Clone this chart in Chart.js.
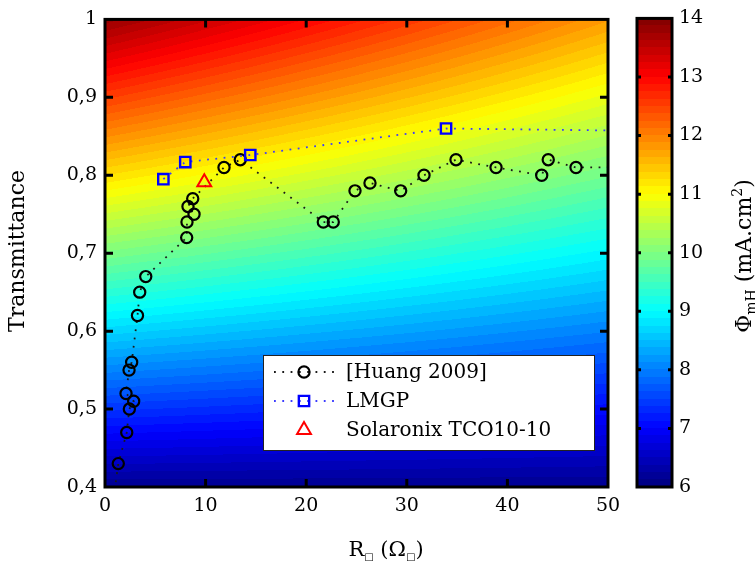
<!DOCTYPE html>
<html>
<head>
<meta charset="utf-8">
<script src="https://cdn.jsdelivr.net/npm/chart.js@4/dist/chart.umd.min.js"></script>
<style>
  html, body { margin: 0; padding: 0; background: #fff; }
  #wrap { position: relative; width: 755px; height: 561px; }
  canvas { position: absolute; top: 0; }
</style>
</head>
<body>
<div id="wrap">
  <canvas id="main" width="755" height="561" style="left:0;width:755px;height:561px"></canvas>
  <canvas id="cbar" width="140" height="561" style="left:615px;width:140px;height:561px"></canvas>
</div>
<script>
// --- data ---
// [Huang 2009]  (first and last points lie outside the axes, only the dotted line shows)
const huangR = [0.85, 1.32, 2.16, 2.42, 2.85, 2.09, 2.39, 2.65, 3.23, 3.45, 4.05,
                8.12, 8.15, 8.85, 8.25, 8.72, 11.83, 13.45, 21.7, 22.69, 24.85, 26.34,
                29.39, 31.71, 34.89, 38.87, 43.41, 44.06, 46.82, 54];
const huangT = [0.385, 0.43, 0.47, 0.50, 0.51, 0.52, 0.55, 0.56, 0.62, 0.65, 0.67,
                0.72, 0.74, 0.75, 0.76, 0.77, 0.81, 0.82, 0.74, 0.74, 0.78, 0.79,
                0.78, 0.80, 0.82, 0.81, 0.80, 0.82, 0.81, 0.81];
// LMGP (last point beyond the x range)
const lmgpR = [5.8, 7.98, 14.44, 33.9, 60];
const lmgpT = [0.795, 0.817, 0.826, 0.860, 0.856];
// Solaronix TCO10-10
const solR = [9.87];
const solT = [0.791];

const xTicks = [0, 10, 20, 30, 40, 50];
const yTicks = [0.4, 0.5, 0.6, 0.7, 0.8, 0.9, 1];
const cbTicks = [6, 7, 8, 9, 10, 11, 12, 13, 14];

// background field Phi_mH(R, T), colour range 6..14
const PHI_MIN = 6, PHI_MAX = 14;
const PHI_AT_T04 = 6.13;
const SLOPE_R0 = 12.82, SLOPE_R50 = 9.41;

const FONT = '"DejaVu Serif", "Liberation Serif", serif';
Chart.defaults.font.family = FONT;

const pts = (xs, ys) => xs.map((v, i) => ({ x: v, y: ys[i] }));

function phi(r, t) {
  const s = SLOPE_R0 + (SLOPE_R50 - SLOPE_R0) * r / 50;
  return PHI_AT_T04 + s * (t - 0.4);
}

// matlab style jet, 64 levels
function jet(v) {
  const k = Math.min(63, Math.max(0, Math.floor(v * 64)));
  const u = (k + 0.5) / 64;
  const f = z => Math.round(255 * Math.min(1, Math.max(0, 1.5 - Math.abs(4 * u - z))));
  return [f(3), f(2), f(1)];
}

function richText(ctx, parts, cx, cy, angle) {
  // parts: [text, size, shift]
  ctx.save();
  ctx.translate(cx, cy);
  ctx.rotate(angle);
  ctx.textAlign = 'left';
  ctx.textBaseline = 'alphabetic';
  ctx.fillStyle = '#000';
  let total = 0;
  parts.forEach(p => { ctx.font = p[1] + 'px ' + FONT; total += ctx.measureText(p[0]).width; });
  let x = -total / 2;
  parts.forEach(p => {
    ctx.font = p[1] + 'px ' + FONT;
    ctx.fillText(p[0], x, p[2]);
    x += ctx.measureText(p[0]).width;
  });
  ctx.restore();
}

function marker(ctx, style, r, x, y) {
  ctx.beginPath();
  if (style === 'circle') {
    ctx.arc(x, y, r, 0, Math.PI * 2);
  } else if (style === 'rect') {
    const s = Math.SQRT1_2 * r;
    ctx.rect(x - s, y - s, 2 * s, 2 * s);
  } else if (style === 'triangle') {
    ctx.moveTo(x, y - r);
    ctx.lineTo(x + r * Math.sin(2 * Math.PI / 3), y - r * Math.cos(2 * Math.PI / 3));
    ctx.lineTo(x + r * Math.sin(4 * Math.PI / 3), y - r * Math.cos(4 * Math.PI / 3));
    ctx.closePath();
  }
  ctx.stroke();
}

const fieldPlugin = {
  id: 'field',
  beforeDatasetsDraw(chart) {
    const { ctx, chartArea: a, scales: { x, y } } = chart;
    const w = Math.round(a.right - a.left), h = Math.round(a.bottom - a.top);
    const img = ctx.createImageData(w, h);
    const rs = [];
    for (let i = 0; i < w; i++) rs.push(x.getValueForPixel(a.left + i + 0.5));
    for (let j = 0; j < h; j++) {
      const t = y.getValueForPixel(a.top + j + 0.5);
      for (let i = 0; i < w; i++) {
        const c = jet((phi(rs[i], t) - PHI_MIN) / (PHI_MAX - PHI_MIN));
        const o = (j * w + i) * 4;
        img.data[o] = c[0]; img.data[o + 1] = c[1]; img.data[o + 2] = c[2]; img.data[o + 3] = 255;
      }
    }
    ctx.putImageData(img, Math.round(a.left), Math.round(a.top));
  },
  afterDraw(chart) {
    const { ctx, chartArea: a, scales: { x, y } } = chart;
    ctx.save();
    // frame with inward ticks
    ctx.strokeStyle = '#000';
    ctx.lineWidth = 3;
    ctx.strokeRect(a.left, a.top, a.right - a.left, a.bottom - a.top);
    ctx.beginPath();
    x.ticks.forEach(t => {
      if (t.value <= x.min || t.value >= x.max) return;
      const px = x.getPixelForValue(t.value);
      ctx.moveTo(px, a.bottom); ctx.lineTo(px, a.bottom - 8);
      ctx.moveTo(px, a.top); ctx.lineTo(px, a.top + 8);
    });
    y.ticks.forEach(t => {
      if (t.value <= y.min + 1e-9 || t.value >= y.max - 1e-9) return;
      const py = y.getPixelForValue(t.value);
      ctx.moveTo(a.left, py); ctx.lineTo(a.left + 8, py);
      ctx.moveTo(a.right, py); ctx.lineTo(a.right - 8, py);
    });
    ctx.stroke();

    // legend
    const bx = 263, by = 355, bw = 331, bh = 95;
    ctx.fillStyle = '#fff';
    ctx.fillRect(bx, by, bw, bh);
    ctx.lineWidth = 1;
    ctx.strokeStyle = '#222';
    ctx.strokeRect(bx + 0.5, by + 0.5, bw, bh);
    chart.data.datasets.forEach((ds, i) => {
      const ry = by + 17 + i * 29;
      if (ds.showLine) {
        ctx.save();
        ctx.strokeStyle = ds.borderColor;
        ctx.lineWidth = ds.borderWidth;
        ctx.setLineDash(ds.borderDash);
        ctx.beginPath();
        ctx.moveTo(bx + 11, ry); ctx.lineTo(bx + 72, ry);
        ctx.stroke();
        ctx.restore();
      }
      ctx.strokeStyle = ds.pointBorderColor;
      ctx.lineWidth = ds.pointBorderWidth;
      ctx.setLineDash([]);
      marker(ctx, ds.pointStyle, ds.pointRadius, bx + 41, ry);
      ctx.fillStyle = '#000';
      ctx.font = '20px ' + FONT;
      ctx.textAlign = 'left';
      ctx.textBaseline = 'middle';
      ctx.fillText(ds.label, bx + 83, ry + 1);
    });

    // axis titles
    richText(ctx, [['Transmittance', 22, 0]], 24, 251, -Math.PI / 2);
    ctx.translate(0, 0);
    richText(ctx, [['R', 21, 0], ['\u25A1', 10, 4], [' (\u03A9', 21, 0], ['\u25A1', 10, 4], [')', 21, 0]],
             386, 556, 0);
    ctx.restore();
  }
};

new Chart(document.getElementById('main'), {
  type: 'scatter',
  data: {
    datasets: [
      {
        label: '[Huang 2009]', data: pts(huangR, huangT), showLine: true, order: 3,
        borderColor: '#1a1a1a', borderWidth: 1.8, borderDash: [1.8, 6.5],
        pointStyle: 'circle', pointRadius: 5.6, pointBorderWidth: 2.2,
        pointBorderColor: '#000', pointBackgroundColor: 'rgba(0,0,0,0)', clip: 0
      },
      {
        label: 'LMGP', data: pts(lmgpR, lmgpT), showLine: true, order: 2,
        borderColor: '#3b3bff', borderWidth: 1.8, borderDash: [1.8, 6.5],
        pointStyle: 'rect', pointRadius: 7.3, pointBorderWidth: 2.4,
        pointBorderColor: '#0000ff', pointBackgroundColor: 'rgba(0,0,0,0)', clip: 0
      },
      {
        label: 'Solaronix TCO10-10', data: pts(solR, solT), showLine: false, order: 1,
        pointStyle: 'triangle', pointRadius: 8, pointBorderWidth: 2,
        pointBorderColor: '#ff0000', pointBackgroundColor: 'rgba(0,0,0,0)', clip: 0
      }
    ]
  },
  options: {
    responsive: false,
    animation: false,
    devicePixelRatio: 1,
    layout: { padding: { left: 0, right: 147, top: 17, bottom: 0 } },
    plugins: { legend: { display: false }, tooltip: { enabled: false } },
    elements: { point: { hoverRadius: 0 } },
    scales: {
      x: {
        type: 'linear', min: xTicks[0], max: xTicks[xTicks.length - 1],
        grid: { display: false, drawTicks: false }, border: { display: false },
        afterBuildTicks: s => { s.ticks = xTicks.map(v => ({ value: v })); },
        ticks: { color: '#000', font: { size: 19 }, padding: 8, maxRotation: 0, autoSkip: false },
        afterFit: s => { s.height = 74; }
      },
      y: {
        type: 'linear', min: yTicks[0], max: yTicks[yTicks.length - 1],
        grid: { display: false, drawTicks: false }, border: { display: false },
        afterBuildTicks: s => { s.ticks = yTicks.map(v => ({ value: v })); },
        ticks: {
          color: '#000', font: { size: 19 }, padding: 8, autoSkip: false,
          callback: v => (Math.abs(v - 1) < 1e-9 ? '1' : v.toFixed(1).replace('.', ','))
        },
        afterFit: s => { s.width = 105; }
      }
    }
  },
  plugins: [fieldPlugin]
});

// --- colour bar ---
const cbPlugin = {
  id: 'cbar',
  beforeDraw(chart) {
    const { ctx, chartArea: a, scales: { y } } = chart;
    const w = Math.round(a.right - a.left), h = Math.round(a.bottom - a.top);
    const img = ctx.createImageData(w, h);
    for (let j = 0; j < h; j++) {
      const v = y.getValueForPixel(a.top + j + 0.5);
      const c = jet((v - PHI_MIN) / (PHI_MAX - PHI_MIN));
      for (let i = 0; i < w; i++) {
        const o = (j * w + i) * 4;
        img.data[o] = c[0]; img.data[o + 1] = c[1]; img.data[o + 2] = c[2]; img.data[o + 3] = 255;
      }
    }
    ctx.putImageData(img, Math.round(a.left), Math.round(a.top));
  },
  afterDraw(chart) {
    const { ctx, chartArea: a, scales: { y } } = chart;
    ctx.save();
    ctx.strokeStyle = '#000';
    ctx.lineWidth = 3;
    ctx.strokeRect(a.left, a.top, a.right - a.left, a.bottom - a.top);
    ctx.beginPath();
    y.ticks.forEach(t => {
      if (t.value <= y.min || t.value >= y.max) return;
      const py = y.getPixelForValue(t.value);
      ctx.moveTo(a.left, py); ctx.lineTo(a.left + 4, py);
      ctx.moveTo(a.right, py); ctx.lineTo(a.right - 4, py);
    });
    ctx.stroke();
    richText(ctx, [['\u03A6', 22, 0], ['mH', 14, 5], [' (mA.cm', 22, 0], ['2', 14, -9], [')', 22, 0]],
             136, 256, -Math.PI / 2);
    ctx.restore();
  }
};

new Chart(document.getElementById('cbar'), {
  type: 'scatter',
  data: { datasets: [] },
  options: {
    responsive: false,
    animation: false,
    devicePixelRatio: 1,
    layout: { padding: { left: 22, right: 0, top: 17, bottom: 74 } },
    plugins: { legend: { display: false }, tooltip: { enabled: false } },
    scales: {
      x: { display: false, min: 0, max: 1 },
      y: {
        position: 'right', min: cbTicks[0], max: cbTicks[cbTicks.length - 1],
        grid: { display: false, drawTicks: false }, border: { display: false },
        afterBuildTicks: s => { s.ticks = cbTicks.map(v => ({ value: v })); },
        ticks: { color: '#000', font: { size: 19 }, padding: 7, autoSkip: false },
        afterFit: s => { s.width = 83; }
      }
    }
  },
  plugins: [cbPlugin]
});
</script>
</body>
</html>
